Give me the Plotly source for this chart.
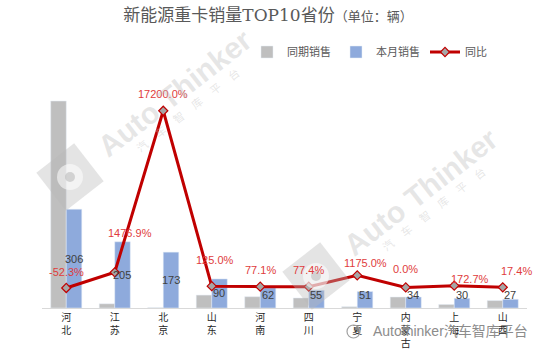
import math
import plotly.graph_objects as go

categories = ["河北", "江苏", "北京", "山东", "河南", "四川", "宁夏", "内蒙古", "上海", "山西"]
prev_sales = [641, 13, 1, 40, 35, 31, 4, 34, 11, 23]
curr_sales = [306, 205, 173, 90, 62, 55, 51, 34, 30, 27]
yoy_pct = [-52.3, 1476.9, 17200.0, 125.0, 77.1, 77.4, 1175.0, 0.0, 172.7, 17.4]

tick_text = ["<br>".join(c) for c in categories]

# label offsets (px) for YoY labels
yoy_xshift = [0, 15, 0, 3, 0, 0, 8, 0, 16, 14]
yoy_yshift = [16, 39, 17, 26, 17, 17, 12, 18, 7, 16]

GRAY = "#bfbfbf"
BLUE = "#8eaadc"
RED = "#c00000"
TXT = "#595959"
SANS = "Liberation Sans, Noto Sans CJK SC, sans-serif"

W, H = 550, 355
ML, MR, MT, MB = 42, 23, 82, 47
PW, PH = W - ML - MR, H - MT - MB


def px(xp, yp):
    return (xp - ML) / PW, (H - MB - yp) / PH


fig = go.Figure()
fig.add_trace(go.Bar(x=categories, y=prev_sales, name="同期销售", marker_color=GRAY))
fig.add_trace(go.Bar(x=categories, y=curr_sales, name="本月销售", marker_color=BLUE))
fig.add_trace(go.Scatter(
    x=categories, y=yoy_pct, name="同比", yaxis="y2", mode="lines+markers",
    line=dict(color=RED, width=3),
    marker=dict(symbol="diamond", size=7, color="#a6a6a6", line=dict(color=RED, width=1.2)),
))

annotations = []
for c, v in zip(categories, curr_sales):
    annotations.append(dict(x=c, y=max(v / 2, 40), xref="x", yref="y", text=str(v),
                            showarrow=False, xshift=7.5,
                            font=dict(size=11, color="#404040", family=SANS)))
for c, v, dx, dy in zip(categories, yoy_pct, yoy_xshift, yoy_yshift):
    annotations.append(dict(x=c, y=v, xref="x", yref="y2", text=f"{v:.1f}%",
                            showarrow=False, xshift=dx, yshift=dy,
                            font=dict(size=11, color="#e03c3c", family=SANS)))

# watermarks
wm = "rgba(190,190,190,0.38)"
shapes = []
for (cx, cy, sx, sy, lx, ly) in [(174, 93, 187, 110, 70, 177), (420, 192, 433, 209, 316, 276)]:
    ax, ay = px(cx, cy)
    bx, by = px(sx, sy)
    annotations.append(dict(x=ax, y=ay, xref="paper", yref="paper", text="<b>Auto Thinker</b>",
                            showarrow=False, textangle=-38, xanchor="center", yanchor="middle",
                            font=dict(size=30, color=wm, family="Liberation Sans")))
    annotations.append(dict(x=bx, y=by, xref="paper", yref="paper",
                            text="汽    车    智    库    平    台",
                            showarrow=False, textangle=-38, xanchor="center", yanchor="middle",
                            font=dict(size=11, color=wm, family=SANS)))
    # logo: rotated rounded square
    th = math.radians(38)
    s = 24
    pts = []
    for dx, dy in [(-s, -s), (s, -s), (s, s), (-s, s)]:
        rx = lx + dx * math.cos(th) + dy * math.sin(th)
        ry = ly - dx * math.sin(th) + dy * math.cos(th)
        pts.append(px(rx, ry))
    path = "M " + " L ".join(f"{a:.4f},{b:.4f}" for a, b in pts) + " Z"
    shapes.append(dict(type="path", path=path, xref="paper", yref="paper",
                       fillcolor="rgba(185,185,185,0.38)", line=dict(width=0), layer="above"))
    c0 = px(lx - 13, ly - 13)
    c1 = px(lx + 13, ly + 13)
    shapes.append(dict(type="circle", xref="paper", yref="paper", x0=c0[0], y0=c0[1],
                       x1=c1[0], y1=c1[1], fillcolor="rgba(255,255,255,0.55)",
                       line=dict(width=0), layer="above"))
    d0 = px(lx - 5, ly - 5)
    d1 = px(lx + 5, ly + 5)
    shapes.append(dict(type="circle", xref="paper", yref="paper", x0=d0[0], y0=d0[1],
                       x1=d1[0], y1=d1[1], fillcolor="rgba(170,170,170,0.45)",
                       line=dict(width=0), layer="above"))

# bottom WeChat-style credit
i0 = px(347, 325)
i1 = px(360, 338)
shapes.append(dict(type="circle", xref="paper", yref="paper", x0=i0[0], y0=i0[1],
                   x1=i1[0], y1=i1[1], fillcolor="rgba(0,0,0,0)",
                   line=dict(color="#a0a0a0", width=1.2), layer="above"))
bx, by = px(371, 331)
annotations.append(dict(x=bx, y=by, xref="paper", yref="paper", text="Autothinker汽车智库平台",
                        showarrow=False, xanchor="left", yanchor="middle",
                        font=dict(size=14, color="#8c8c8c", family=SANS)))

fig.update_layout(
    width=W, height=H, autosize=False,
    margin=dict(l=ML, r=MR, t=MT, b=MB, pad=0, autoexpand=False),
    paper_bgcolor="white", plot_bgcolor="white",
    barmode="group", bargap=0.36, bargroupgap=0,
    title=dict(
        text="新能源重卡销量TOP10省份<span style='font-size:13px'>（单位：辆）</span>",
        x=268 / W, xanchor="center", xref="container",
        y=1 - 15 / H, yanchor="middle", yref="container",
        font=dict(size=17, color=TXT, family="DejaVu Serif, Noto Sans CJK SC, serif"),
    ),
    legend=dict(orientation="h", x=492 / W, xanchor="right", xref="container",
                y=1 - 52 / H, yanchor="middle", yref="container",
                font=dict(size=11, color=TXT, family=SANS), itemwidth=30,
                bgcolor="rgba(0,0,0,0)"),
    xaxis=dict(tickvals=categories, ticktext=tick_text, showline=True, linecolor="#d9d9d9",
               linewidth=1, ticks="", showgrid=False, automargin=False,
               range=[-0.5, len(categories) - 0.5], autorange=False,
               tickfont=dict(size=10, color="#262626", family=SANS)),
    yaxis=dict(range=[0, 700], visible=False, showgrid=False),
    yaxis2=dict(range=[-2000, 20000], overlaying="y", visible=False, showgrid=False),
    annotations=annotations,
    shapes=shapes,
    showlegend=True,
)

fig.write_html("out.html", config={"displayModeBar": False, "responsive": False},
               post_script="document.body.style.margin='0';")
